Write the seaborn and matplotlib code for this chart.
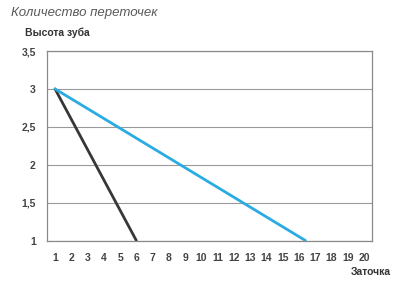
import matplotlib
matplotlib.use("Agg")
import matplotlib.pyplot as plt
import seaborn as sns
import pandas as pd
import numpy as np

# Data
series_names = ["Чёрная", "Голубая"]
black_x = [1, 6]
black_y = [3, 1]
blue_x = [1, 16.4]
blue_y = [3, 1]
x_ticks = list(range(1, 21))
y_ticks = [1, 1.5, 2, 2.5, 3, 3.5]
y_tick_labels = ["1", "1,5", "2", "2,5", "3", "3,5"]

df = pd.DataFrame({
    "x": black_x + blue_x,
    "y": black_y + blue_y,
    "s": [series_names[0]] * len(black_x) + [series_names[1]] * len(blue_x),
})

sns.set_style("white")
plt.rcParams["font.family"] = ["Liberation Sans", "DejaVu Sans"]

fig = plt.figure(figsize=(4.08, 2.82), dpi=100)
ax = fig.add_axes([0.115, 0.147, 0.797, 0.672])

sns.lineplot(data=df, x="x", y="y", hue="s", palette=["#3a3636", "#2aabe2"],
             linewidth=2.0, ax=ax, legend=False, sort=False)

ax.set_xlim(0.5, 20.5)
ax.set_ylim(1, 3.5)
ax.set_xticks(x_ticks)
ax.set_xticklabels([str(v) for v in x_ticks], fontsize=7.5, color="#444444",
                   fontweight="bold")
ax.set_xticks(np.arange(0.5, 21, 1), minor=True)
ax.tick_params(axis="x", which="major", length=0, pad=9)
ax.tick_params(axis="x", which="minor", length=3, width=0.8, color="#888888", direction="out")
ax.set_yticks(y_ticks)
ax.set_yticklabels(y_tick_labels, fontsize=7.5, color="#444444", fontweight="bold")
ax.tick_params(axis="y", length=0, pad=8)
ax.yaxis.grid(True, color="#9a9a9a", linewidth=0.8)
ax.set_axisbelow(True)
for sp in ax.spines.values():
    sp.set_color("#8a8a8a")
    sp.set_linewidth(0.9)
ax.set_xlabel("")
ax.set_ylabel("")

fig.text(0.028, 0.955, "Количество переточек", fontsize=9.5, style="italic",
         color="#5a5a5a", ha="left", va="center")
fig.text(0.062, 0.885, "Высота зуба", fontsize=7.5, fontweight="bold",
         color="#333333", ha="left", va="center")
fig.text(0.86, 0.035, "Заточка", fontsize=7.5, fontweight="bold",
         color="#333333", ha="left", va="center")

fig.savefig("out.png", dpi=100, facecolor="white")
